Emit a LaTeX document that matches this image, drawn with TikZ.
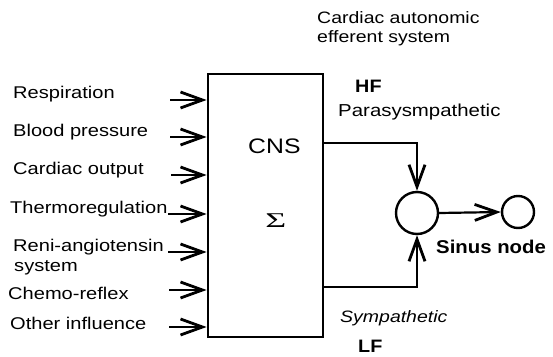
\documentclass[tikz,border=0pt]{standalone}
\usepackage{fontspec}
\setmainfont{Liberation Sans}
\newfontfamily\sigfont{Liberation Serif}
\usetikzlibrary{arrows.meta}
\tikzset{
  lbl/.style={anchor=base west, inner sep=0pt, xscale=1.18, font=\fontsize{17}{20}\selectfont},
  toplbl/.style={anchor=base west, inner sep=0pt, xscale=1.18, font=\fontsize{16.5}{19}\selectfont},
  boldlbl/.style={anchor=base west, inner sep=0pt, xscale=1.1, font=\fontsize{18}{20}\selectfont\bfseries},
  arr/.style={-{Straight Barb[length=22pt,width=16pt,line width=2.8pt]}, line width=2.2pt},
  blk/.style={draw, line width=2.8pt, minimum width=115pt, minimum height=263pt, inner sep=0pt},
  circ/.style={draw, circle, line width=2.4pt, inner sep=0pt}
}
\begin{document}
\begin{tikzpicture}[x=1pt,y=-1pt]
\useasboundingbox (0,0) rectangle (553,356);
% CNS block
\node[blk] (cns) at (265.5,205.5) {};
\node[lbl, font=\fontsize{21}{24}\selectfont] (cnst) at (248,153) {CNS};
\node[lbl, xscale=1.45, font=\fontsize{21}{24}\sigfont] (sig) at (265,227) {Σ};
% inputs
\node[lbl] (l1) at (13,98) {Respiration};
\node[lbl] (l2) at (13,136) {Blood pressure};
\node[lbl] (l3) at (13,174) {Cardiac output};
\node[lbl] (l4) at (10,213) {Thermoregulation};
\node[lbl] (l5) at (13,251) {Reni-angiotensin};
\node[lbl] (l5b) at (14,271) {system};
\node[lbl] (l6) at (8,299) {Chemo-reflex};
\node[lbl] (l7) at (10,329) {Other influence};
\coordinate (a1) at (170,100);
\coordinate (a2) at (170,137);
\coordinate (a3) at (171,175);
\coordinate (a4) at (168,214);
\coordinate (a5) at (168,252);
\coordinate (a6) at (169,290);
\coordinate (a7) at (169,327);
\foreach \i in {1,...,7} {
  \draw[arr] (a\i) -- (a\i -| cns.west);
}
% outputs
\node[circ, minimum size=42pt] (sum) at (417,213) {};
\node[circ, minimum size=32pt] (sn) at (518,212) {};
\coordinate (p1) at (323,143);
\coordinate (s1) at (323,287);
\draw[arr] (p1) -| (sum.north);
\draw[arr] (s1) -| (sum.south);
\draw[arr] (sum.east) -- (sn.west);
% labels right
\node[toplbl] (t1) at (317,23) {Cardiac autonomic};
\node[toplbl] (t2) at (317,42) {efferent system};
\node[boldlbl] (hf) at (355,92) {HF};
\node[lbl, font=\fontsize{17.3}{20}\selectfont] (para) at (338,116) {Parasysmpathetic};
\node[boldlbl, font=\fontsize{18.5}{20}\selectfont\bfseries] (sinus) at (436,253) {Sinus node};
\node[lbl, font=\fontsize{16.5}{20}\selectfont\itshape] (symp) at (340,322) {Sympathetic};
\node[boldlbl] (lf) at (358,352) {LF};
\end{tikzpicture}
\end{document}
